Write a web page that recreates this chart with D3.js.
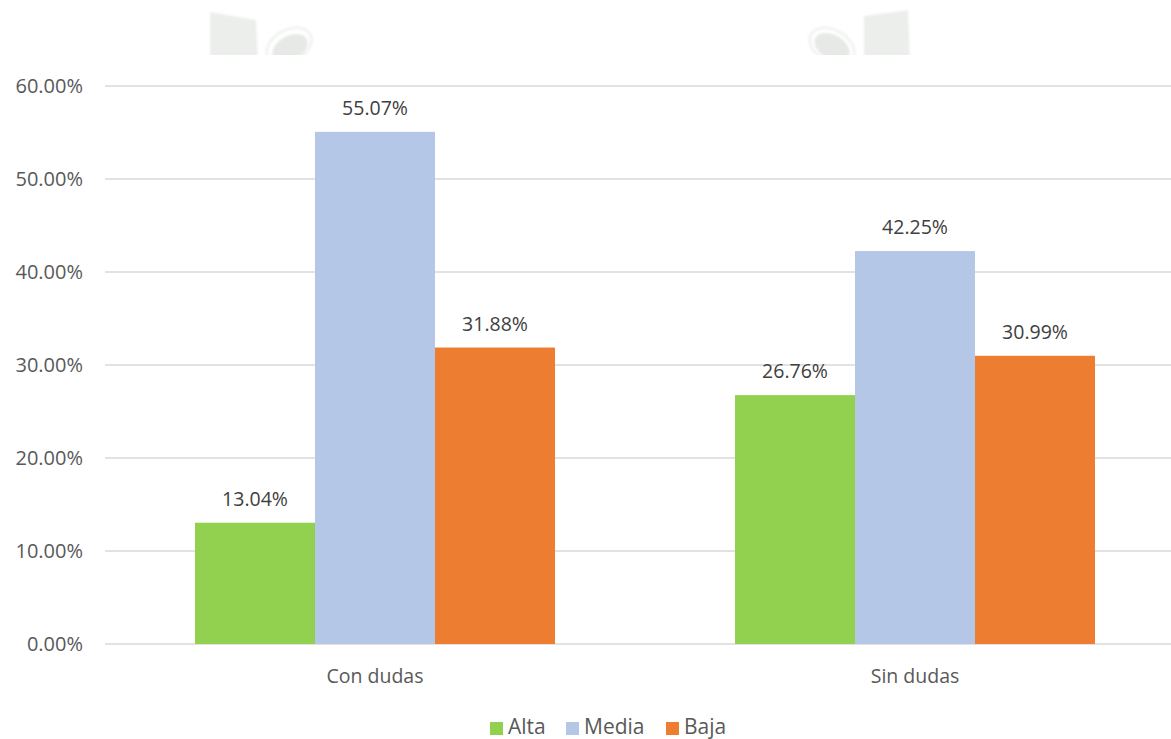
<!DOCTYPE html>
<html>
<head>
<meta charset="utf-8">
<script src="https://cdn.jsdelivr.net/npm/d3@7"></script>
<style>
  html, body { margin: 0; padding: 0; background: #ffffff; }
  svg { display: block; font-family: "Open Sans", "Noto Sans", sans-serif; }
</style>
</head>
<body>
<svg id="chart" width="1171" height="739"></svg>
<script>
// Grouped bars: level (Alta / Media / Baja) by group
const categories = ["Con dudas", "Sin dudas"];
const seriesNames = ["Alta", "Media", "Baja"];
const alta = [13.04, 26.76];
const media = [55.07, 42.25];
const baja = [31.88, 30.99];
const yTicks = [0, 10, 20, 30, 40, 50, 60];
const colors = ["#92d050", "#b4c7e7", "#ed7d31"];

const seriesValues = [alta, media, baja];

const svg = d3.select("#chart");
const W = 1171, H = 739;

// faint decorative emblem shapes along the top edge
const defs = svg.append("defs");
defs.append("filter").attr("id", "soft").append("feGaussianBlur").attr("stdDeviation", 1.2);
defs.append("clipPath").attr("id", "topclip").append("rect")
  .attr("x", 0).attr("y", 0).attr("width", W).attr("height", 55);
const deco = svg.append("g").attr("clip-path", "url(#topclip)")
  .append("g").attr("filter", "url(#soft)");
deco.append("path").attr("d", "M210,12 L256,20 L258,60 L210,60 Z").attr("fill", "#eceeec");
deco.append("ellipse").attr("cx", 289).attr("cy", 46).attr("rx", 24).attr("ry", 16)
  .attr("transform", "rotate(-30,289,46)").attr("fill", "none").attr("stroke", "#f1f3f1").attr("stroke-width", 3);
deco.append("ellipse").attr("cx", 290).attr("cy", 48).attr("rx", 19).attr("ry", 12)
  .attr("transform", "rotate(-30,290,48)").attr("fill", "#e6e9e6");
deco.append("path").attr("d", "M864,16 L908,10 L910,60 L864,60 Z").attr("fill", "#eceeec");
deco.append("ellipse").attr("cx", 832).attr("cy", 46).attr("rx", 24).attr("ry", 16)
  .attr("transform", "rotate(30,832,46)").attr("fill", "none").attr("stroke", "#f1f3f1").attr("stroke-width", 3);
deco.append("ellipse").attr("cx", 832).attr("cy", 47).attr("rx", 19).attr("ry", 12)
  .attr("transform", "rotate(30,832,47)").attr("fill", "#e6e9e6");

const margin = { left: 105, right: -14, top: 86, bottom: 95 };
const x0 = d3.scaleBand().domain(categories).range([margin.left, W - margin.right]);
const gap = x0.bandwidth() / 6;
const x1 = d3.scaleBand().domain(seriesNames).range([gap, x0.bandwidth() - gap]);
const y = d3.scaleLinear().domain([0, 60]).range([H - margin.bottom, margin.top]);

// gridlines
svg.append("g").selectAll("line").data(yTicks).join("line")
  .attr("x1", margin.left).attr("x2", W)
  .attr("y1", d => y(d)).attr("y2", d => y(d))
  .attr("stroke", "#d9d9d9").attr("stroke-width", 1.5);

// y axis labels
const yAxis = d3.axisLeft(y).tickValues(yTicks).tickFormat(d => d.toFixed(2) + "%").tickSize(0).tickPadding(0);
const ya = svg.append("g").attr("transform", `translate(${83},0)`).call(yAxis);
ya.select(".domain").remove();
ya.selectAll("text").attr("font-size", 20).attr("fill", "#595959")
  .attr("font-family", "'Open Sans', sans-serif");

// bars
const groups = svg.append("g").selectAll("g").data(categories).join("g")
  .attr("transform", d => `translate(${x0(d)},0)`);

groups.each(function (cat, ci) {
  const g = d3.select(this);
  seriesNames.forEach((s, si) => {
    const v = seriesValues[si][ci];
    g.append("rect")
      .attr("x", x1(s)).attr("width", x1.bandwidth())
      .attr("y", y(v)).attr("height", y(0) - y(v))
      .attr("fill", colors[si]);
    g.append("text")
      .attr("x", x1(s) + x1.bandwidth() / 2)
      .attr("y", y(v) - 17)
      .attr("text-anchor", "middle")
      .attr("font-size", 19.5).attr("fill", "#404040")
      .text(v.toFixed(2) + "%");
  });
});

// category axis labels
svg.append("g").selectAll("text").data(categories).join("text")
  .attr("x", d => x0(d) + x0.bandwidth() / 2)
  .attr("y", 683)
  .attr("text-anchor", "middle")
  .attr("font-size", 19.5).attr("fill", "#595959")
  .text(d => d);

// legend
const legendItems = [
  { name: "Alta", x: 490 },
  { name: "Media", x: 566 },
  { name: "Baja", x: 666 }
];
const lg = svg.append("g");
legendItems.forEach((it, i) => {
  lg.append("rect").attr("x", it.x).attr("y", 722).attr("width", 13).attr("height", 13).attr("fill", colors[i]);
  lg.append("text").attr("x", it.x + 18).attr("y", 734)
    .attr("font-size", 21).attr("fill", "#595959").text(it.name);
});
</script>
</body>
</html>
